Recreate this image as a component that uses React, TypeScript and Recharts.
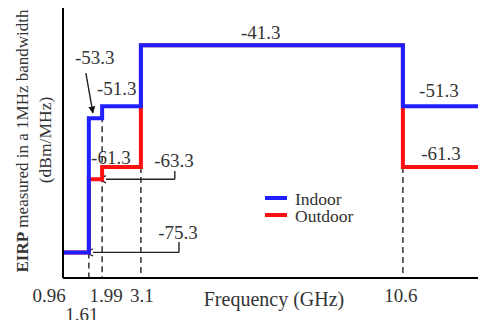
import { LineChart, Line, XAxis, YAxis, ReferenceLine, ReferenceDot, Legend } from 'recharts'

const FONT = '"Liberation Serif", "Times New Roman", serif'
const TEXT = '#333'
const BLUE = '#1f1fff'
const RED = '#ff0f0f'

// step edges (GHz) and EIRP limits (dBm/MHz)
const freqEdges = [0.87, 1.61, 1.99, 3.1, 10.6, 12.75]
const indoorEirp = [-75.3, -53.3, -51.3, -41.3, -51.3, -51.3]
const outdoorEirp = [-75.3, -63.3, -61.3, -41.3, -61.3, -61.3]

const xTicks = [0.96, 1.61, 1.99, 3.1, 10.6]

// dashed guides from a step down to the axis
const guideFreqs = [1.61, 1.99, 3.1, 10.6]
const guideTops = [-75.3, -51.3, -61.3, -61.3]

const X_DOMAIN: [number, number] = [0.87, 12.75]
const Y_DOMAIN: [number, number] = [-79.5, -35.2]

const data = freqEdges.map((f, i) => ({ f, indoor: indoorEirp[i], outdoor: outdoorEirp[i] }))

// value labels: text, anchor in data units
const valueLabels = [
  { text: '-41.3', x: 6.53, y: -39.15 },
  { text: '-51.3', x: 11.63, y: -48.8 },
  { text: '-61.3', x: 11.69, y: -59.15 },
  { text: '-53.3', x: 1.78, y: -43.4 },
  { text: '-51.3', x: 2.41, y: -48.35 },
  { text: '-61.3', x: 2.24, y: -59.65 },
  { text: '-63.3', x: 4.05, y: -60.15 },
  { text: '-75.3', x: 4.16, y: -72.1 },
]

// leader lines for the annotations
const leaders = [
  { from: { x: 1.525, y: -45.9 }, to: { x: 1.726, y: -52.4 }, head: 'solid' },
  { from: { x: 4.07, y: -61.95 }, to: { x: 4.07, y: -63.3 }, head: '' },
  { from: { x: 4.07, y: -63.3 }, to: { x: 2.1, y: -63.3 }, head: 'open' },
  { from: { x: 4.19, y: -73.6 }, to: { x: 4.19, y: -75.3 }, head: '' },
  { from: { x: 4.19, y: -75.3 }, to: { x: 1.73, y: -75.3 }, head: 'open' },
]

const tickShift: Record<string, { dx: number; dy: number }> = {
  '0.96': { dx: -17, dy: 17 },
  '1.61': { dx: -7, dy: 36 },
  '1.99': { dx: 4, dy: 17 },
  '3.1': { dx: 1, dy: 17 },
  '10.6': { dx: -2, dy: 17 },
}

const AXIS_Y = 278

function FreqTick(props: any) {
  const { x, payload } = props
  const key = String(payload.value)
  const s = tickShift[key] || { dx: 0, dy: 17 }
  return (
    <text x={x + s.dx} y={AXIS_Y + s.dy} textAnchor="middle" dominantBaseline="central" style={{ fontFamily: FONT }} fontSize={19} fill={TEXT}>
      {key}
    </text>
  )
}

function LegendBox() {
  const rows = [
    { name: 'Indoor', color: BLUE },
    { name: 'Outdoor', color: RED },
  ]
  return (
    <div style={{ fontFamily: FONT, fontSize: 17.5, color: TEXT, lineHeight: '17px' }}>
      {rows.map((r) => (
        <div key={r.name} style={{ display: 'flex', alignItems: 'center', whiteSpace: 'nowrap' }}>
          <span style={{ display: 'inline-block', width: 22, height: 4, background: r.color, marginRight: 8, marginTop: -3 }} />
          {r.name}
        </div>
      ))}
    </div>
  )
}

export default function App() {
  return (
    <div style={{ position: 'absolute', left: 0, top: 0, background: '#fff', fontFamily: FONT }}>
      <LineChart width={478} height={320} data={data} margin={{ top: 8, right: 0, left: 43, bottom: 12 }} style={{ fontFamily: FONT }}>
        <defs>
          <marker id="head-solid" viewBox="0 0 10 10" refX="9" refY="5" markerWidth="7" markerHeight="7" orient="auto" markerUnits="userSpaceOnUse">
            <path d="M0,0 L10,5 L0,10 z" fill="#111" />
          </marker>
          <marker id="head-open" viewBox="0 0 10 10" refX="1" refY="5" markerWidth="9" markerHeight="9" orient="auto" markerUnits="userSpaceOnUse">
            <path d="M9,1 L1,5 L9,9" fill="none" stroke="#222" strokeWidth={1.4} transform="rotate(180 5 5)" />
          </marker>
        </defs>
        <XAxis
          dataKey="f"
          type="number"
          domain={X_DOMAIN}
          ticks={xTicks}
          interval={0}
          height={30}
          tickLine={false}
          tick={<FreqTick />}
          axisLine={{ stroke: '#000', strokeWidth: 2 }}
          allowDataOverflow
        />
        <YAxis
          type="number"
          domain={Y_DOMAIN}
          width={20}
          tick={false}
          tickLine={false}
          axisLine={{ stroke: '#000', strokeWidth: 2 }}
          allowDataOverflow
        />
        {guideFreqs.map((g, i) => (
          <ReferenceLine
            key={'g' + g}
            segment={[{ x: g, y: guideTops[i] }, { x: g, y: Y_DOMAIN[0] }]}
            stroke="#333"
            strokeWidth={1.5}
            strokeDasharray="6 4"
          />
        ))}
        {leaders.map((l, i) => (
          <ReferenceLine
            key={'l' + i}
            segment={[l.from, l.to]}
            shape={(p: any) => (
              <line
                x1={p.x1}
                y1={p.y1}
                x2={p.x2}
                y2={p.y2}
                stroke="#222"
                strokeWidth={1.4}
                markerEnd={l.head ? `url(#head-${l.head})` : undefined}
              />
            )}
          />
        ))}
        <Line dataKey="outdoor" name="Outdoor" type="stepAfter" stroke={RED} strokeWidth={4} dot={false} isAnimationActive={false} />
        <Line dataKey="indoor" name="Indoor" type="stepAfter" stroke={BLUE} strokeWidth={4} dot={false} isAnimationActive={false} />
        {valueLabels.map((v, i) => (
          <ReferenceDot
            key={'v' + i}
            x={v.x}
            y={v.y}
            r={0}
            fill="none"
            stroke="none"
            label={{
              content: (lp: any) => {
                const vb = lp.viewBox || {}
                const cx = (vb.x ?? 0) + (vb.width ?? 0) / 2
                const cy = (vb.y ?? 0) + (vb.height ?? 0) / 2
                return (
                  <text x={cx} y={cy} textAnchor="middle" dominantBaseline="central" style={{ fontFamily: FONT }} fontSize={19} fill={TEXT}>
                    {v.text}
                  </text>
                )
              },
            }}
          />
        ))}
        <Legend
          layout="vertical"
          align="center"
          verticalAlign="middle"
          wrapperStyle={{ left: 265, top: 191, width: 'auto' }}
          content={() => <LegendBox />}
        />
      </LineChart>
      <svg width={478} height={320} style={{ position: 'absolute', left: 0, top: 0, pointerEvents: 'none' }}>
        <g style={{ fontFamily: FONT }} fill={TEXT}>
          <text x={22} y={141} transform="rotate(-90 22 141)" textAnchor="middle" dominantBaseline="central" fontSize={17}>
            <tspan fontWeight="bold">EIRP</tspan> measured in a 1MHz bandwidth
          </text>
          <text x={45} y={140} transform="rotate(-90 45 140)" textAnchor="middle" dominantBaseline="central" fontSize={17.5}>
            (dBm/MHz)
          </text>
          <text x={274} y={299} textAnchor="middle" dominantBaseline="central" fontSize={20}>
            Frequency (GHz)
          </text>
        </g>
      </svg>
    </div>
  )
}
